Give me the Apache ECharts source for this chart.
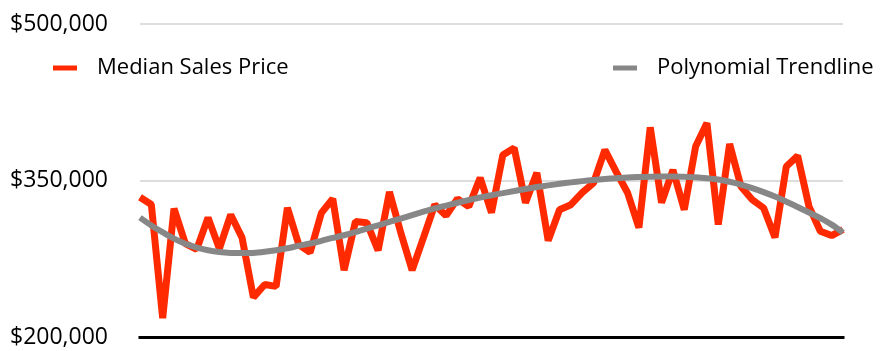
<!DOCTYPE html>
<html>
<head>
<meta charset="utf-8">
<style>
  html, body { margin: 0; padding: 0; background: #ffffff; }
  #chart { width: 881px; height: 351px; }
</style>
<script src="https://cdn.jsdelivr.net/npm/echarts@6/dist/echarts.min.js"></script>
</head>
<body>
<div id="chart"></div>
<script>
// Monthly periods (63 observations)
const periods = Array.from({ length: 63 }, (_, i) => 'M' + (i + 1));

// Median sales price per period
const medianPrice = [
  334000, 327000, 218000, 323000, 289500, 284000, 314400, 284700, 317200, 295300,
  238000, 250300, 248500, 323900, 288600, 281000, 319000, 332500, 264000, 310600,
  309600, 283000, 339000, 300000, 264000, 295300, 326800, 316300, 332500, 325000,
  352600, 319200, 374500, 381200, 328700, 357400, 292400, 322000, 326800, 338300,
  347800, 379300, 358300, 338300, 304800, 401000, 328700, 360200, 322000, 382500,
  405000, 307700, 385000, 344300, 331600, 323600, 295300, 363400, 373600, 325200,
  301300, 297200, 303000
];

// Polynomial trendline values per period
const trendline = [
  314400, 306900, 300400, 294300, 289300, 285700, 283200, 281500, 280600, 280400,
  280600, 281700, 283200, 285100, 287400, 289600, 292200, 295000, 297500, 300600,
  303900, 307100, 310400, 313500, 316800, 320100, 323200, 326000, 328700, 331300,
  333700, 335900, 337900, 339900, 341900, 343700, 345300, 346800, 348200, 349400,
  350500, 351400, 352200, 352900, 353300, 353600, 353800, 353800, 353500, 353100,
  352200, 350900, 348800, 346100, 342700, 338900, 334600, 329700, 324600, 319300,
  313900, 307700, 300000
];

// Value axis ticks
const yMin = 200000, yMax = 500000, yStep = 150000;

const FONT = '"Open Sans", Lato, sans-serif';
const RED = '#ff2a00';
const GRAY = '#878787';

const chart = echarts.init(document.getElementById('chart'), null, { renderer: 'canvas' });

const legendText = { fontFamily: FONT, fontSize: 22, color: '#000', padding: [0, 0, 0, 15] };

chart.setOption({
  backgroundColor: '#ffffff',
  animation: false,
  grid: { left: 140, right: 38, top: 24, bottom: 14, containLabel: false },
  legend: [
    {
      left: 53, top: 57, padding: 0,
      data: ['Median Sales Price'],
      icon: 'rect', itemWidth: 24, itemHeight: 5,
      textStyle: legendText
    },
    {
      left: 613, top: 57, padding: 0,
      data: ['Polynomial Trendline'],
      icon: 'rect', itemWidth: 24, itemHeight: 5,
      textStyle: legendText
    }
  ],
  xAxis: {
    type: 'category',
    data: periods,
    boundaryGap: false,
    axisLine: { show: true, lineStyle: { color: '#000', width: 3, cap: 'square' } },
    axisTick: { show: false },
    axisLabel: { show: false },
    splitLine: { show: false }
  },
  yAxis: {
    type: 'value',
    min: yMin, max: yMax, interval: yStep,
    axisLine: { show: false },
    axisTick: { show: false },
    splitLine: { show: true, lineStyle: { color: '#d2d2d2', width: 1.5 } },
    axisLabel: {
      align: 'left',
      margin: 130,
      fontFamily: FONT,
      fontSize: 23,
      color: '#000',
      formatter: v => '$' + v.toLocaleString('en-US')
    }
  },
  series: [
    {
      name: 'Median Sales Price',
      type: 'line',
      data: medianPrice,
      symbol: 'none',
      itemStyle: { color: RED },
      lineStyle: { color: RED, width: 7, join: 'bevel' },
      z: 2
    },
    {
      name: 'Polynomial Trendline',
      type: 'line',
      data: trendline,
      symbol: 'none',
      smooth: 0.3,
      itemStyle: { color: GRAY },
      lineStyle: { color: GRAY, width: 6 },
      z: 3
    }
  ]
});
</script>
</body>
</html>
